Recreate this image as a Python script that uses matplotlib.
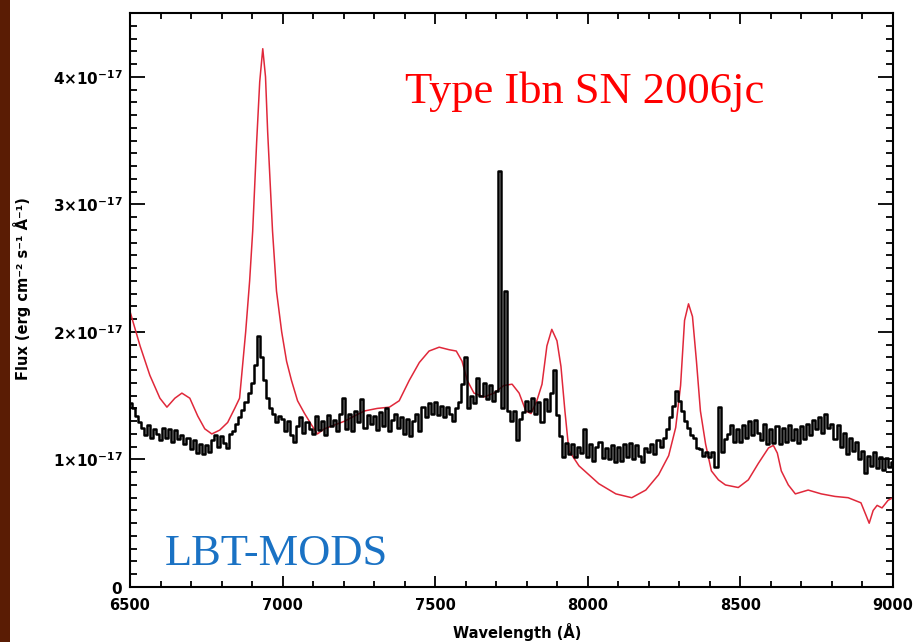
import numpy as np
import matplotlib
matplotlib.use('Agg')
import matplotlib.pyplot as plt
import matplotlib.patches as patches
from matplotlib.ticker import MultipleLocator, FuncFormatter

# Units of 1e-17 erg cm^-2 s^-1 A^-1 for both spectra
FLUX_UNIT = 1e-17

# LBT-MODS spectrum, 10 A bins from 6500 to 9000 A
mods_wave = np.arange(6500, 9001, 10)
mods_flux = [
    1.44, 1.40, 1.34, 1.29, 1.25, 1.19, 1.27, 1.17, 1.24, 1.20,
    1.15, 1.25, 1.17, 1.24, 1.14, 1.23, 1.16, 1.19, 1.12, 1.17,
    1.08, 1.15, 1.05, 1.12, 1.04, 1.11, 1.06, 1.15, 1.19, 1.10,
    1.18, 1.13, 1.09, 1.20, 1.22, 1.28, 1.33, 1.39, 1.45, 1.52,
    1.60, 1.74, 1.97, 1.80, 1.62, 1.48, 1.40, 1.36, 1.29, 1.34,
    1.32, 1.22, 1.30, 1.19, 1.14, 1.26, 1.33, 1.21, 1.29, 1.24,
    1.20, 1.34, 1.23, 1.30, 1.19, 1.35, 1.26, 1.31, 1.22, 1.36,
    1.48, 1.24, 1.36, 1.22, 1.38, 1.29, 1.47, 1.25, 1.35, 1.28,
    1.34, 1.23, 1.37, 1.26, 1.40, 1.22, 1.31, 1.36, 1.25, 1.33,
    1.20, 1.32, 1.18, 1.30, 1.36, 1.22, 1.41, 1.33, 1.44, 1.36,
    1.45, 1.35, 1.42, 1.33, 1.41, 1.36, 1.30, 1.40, 1.45, 1.59,
    1.80, 1.40, 1.50, 1.44, 1.64, 1.50, 1.60, 1.47, 1.58, 1.46,
    1.54, 3.26, 1.40, 2.32, 1.38, 1.30, 1.38, 1.15, 1.32, 1.37,
    1.46, 1.38, 1.48, 1.36, 1.45, 1.29, 1.47, 1.38, 1.52, 1.70,
    1.35, 1.18, 1.02, 1.13, 1.04, 1.12, 1.02, 1.10, 1.05, 1.24,
    1.02, 1.12, 0.99, 1.10, 1.14, 1.01, 1.09, 1.00, 1.11, 0.98,
    1.10, 0.99, 1.12, 1.02, 1.13, 1.00, 1.11, 1.03, 0.98, 1.09,
    1.06, 1.12, 1.04, 1.15, 1.10, 1.17, 1.24, 1.33, 1.42, 1.54,
    1.46, 1.38, 1.30, 1.25, 1.19, 1.17, 1.09, 1.08, 1.03, 1.06,
    1.02, 1.06, 0.94, 1.41, 1.06, 1.16, 1.20, 1.27, 1.14, 1.24,
    1.14, 1.27, 1.17, 1.30, 1.19, 1.31, 1.21, 1.15, 1.28, 1.12,
    1.24, 1.13, 1.26, 1.12, 1.25, 1.14, 1.27, 1.15, 1.24, 1.13,
    1.26, 1.16, 1.28, 1.19, 1.31, 1.24, 1.33, 1.21, 1.36, 1.25,
    1.28, 1.16, 1.27, 1.10, 1.21, 1.04, 1.17, 1.07, 1.14, 1.00,
    1.07, 0.89, 1.03, 0.95, 1.06, 0.93, 1.02, 0.92, 1.01, 0.94,
    0.98,
]

# SN 2006jc comparison spectrum
sn_wave = [
    6500, 6533, 6565, 6598, 6621, 6647, 6670, 6696, 6722, 6745,
    6768, 6794, 6820, 6843, 6859, 6879, 6892, 6902, 6915, 6925,
    6935, 6944, 6951, 6967, 6980, 6997, 7013, 7029, 7049, 7072,
    7095, 7114, 7137, 7170, 7203, 7235, 7268, 7310, 7350, 7382,
    7415, 7448, 7480, 7513, 7546, 7569, 7588, 7605, 7627, 7660,
    7693, 7725, 7752, 7775, 7797, 7814, 7833, 7850, 7866, 7882,
    7899, 7912, 7925, 7938, 7971, 8036, 8092, 8144, 8190, 8232,
    8265, 8288, 8304, 8317, 8330, 8343, 8356, 8369, 8386, 8405,
    8428, 8451, 8493, 8526, 8559, 8592, 8608, 8621, 8634, 8657,
    8680, 8722, 8765, 8810, 8853, 8895, 8912, 8922, 8935, 8948,
    8964, 8984, 9000,
]
sn_flux = [
    2.16, 1.89, 1.66, 1.48, 1.41, 1.48, 1.52, 1.48, 1.34, 1.24,
    1.20, 1.23, 1.29, 1.40, 1.48, 2.00, 2.40, 2.79, 3.49, 3.96,
    4.22, 4.00, 3.57, 2.79, 2.32, 2.00, 1.77, 1.62, 1.46, 1.36,
    1.27, 1.20, 1.24, 1.27, 1.30, 1.34, 1.38, 1.40, 1.41, 1.46,
    1.62, 1.76, 1.85, 1.88, 1.86, 1.85, 1.77, 1.62, 1.52, 1.49,
    1.52, 1.58, 1.59, 1.52, 1.38, 1.36, 1.46, 1.59, 1.89, 2.02,
    1.93, 1.73, 1.38, 1.07, 0.95, 0.81, 0.73, 0.70, 0.76, 0.88,
    1.03, 1.25, 1.58, 2.09, 2.22, 2.12, 1.77, 1.38, 1.12, 0.91,
    0.84, 0.80, 0.78, 0.84, 0.97, 1.09, 1.11, 1.05, 0.91, 0.80,
    0.73, 0.76, 0.73, 0.71, 0.70, 0.66, 0.56, 0.50, 0.60, 0.64,
    0.62, 0.68, 0.70,
]

x_ticks = [6500, 7000, 7500, 8000, 8500, 9000]
y_ticks = [0, 1, 2, 3, 4]


def flux_label(value, pos):
    n = int(round(value / FLUX_UNIT))
    if n == 0:
        return r'$\mathbf{0}$'
    return r'$\mathbf{%d{\times}10^{-17}}$' % n


fig = plt.figure(figsize=(9.16, 6.42), dpi=100)
fig.patch.set_facecolor('white')

# dark strip along the left edge of the slide
fig.patches.append(patches.Rectangle((0, 0), 10 / 916, 1, transform=fig.transFigure,
                                     facecolor='#5a1c04', edgecolor='none', zorder=0))

ax = fig.add_axes([130 / 916, 1 - 587 / 642, 763 / 916, 574 / 642])

ax.plot(sn_wave, np.array(sn_flux) * FLUX_UNIT, color='#e0283a', lw=1.1, zorder=2)
ax.plot(mods_wave, np.array(mods_flux) * FLUX_UNIT, color='black', lw=1.8,
        drawstyle='steps-mid', zorder=3)

ax.set_xlim(6500, 9000)
ax.set_ylim(0, 4.5 * FLUX_UNIT)

ax.set_xticks(x_ticks)
ax.set_yticks([v * FLUX_UNIT for v in y_ticks])
ax.xaxis.set_minor_locator(MultipleLocator(100))
ax.yaxis.set_minor_locator(MultipleLocator(0.1 * FLUX_UNIT))
ax.yaxis.set_major_formatter(FuncFormatter(flux_label))

for side in ax.spines.values():
    side.set_linewidth(1.5)

ax.tick_params(which='both', direction='in', top=True, right=True, width=1.3)
ax.tick_params(axis='y', which='major', length=11, pad=5, labelsize=11)
ax.tick_params(axis='y', which='minor', length=5)
ax.tick_params(axis='x', which='major', length=8, pad=8, labelsize=10.5)
ax.tick_params(axis='x', which='minor', length=4)
for lab in ax.get_xticklabels():
    lab.set_fontweight('bold')

ax.set_xlabel('Wavelength (Å)', fontsize=10.5, fontweight='bold')
ax.xaxis.set_label_coords(0.507, -0.062)
ax.set_ylabel('Flux (erg cm⁻² s⁻¹ Å⁻¹)', fontsize=10.5, fontweight='bold')
ax.yaxis.set_label_coords(-0.130, 0.52)

ax.text(0.360, 0.843, 'Type Ibn SN 2006jc', transform=ax.transAxes,
        color='#ff0000', fontsize=32, family='Liberation Serif', va='baseline')
ax.text(0.046, 0.038, 'LBT-MODS', transform=ax.transAxes,
        color='#1a72c4', fontsize=32, family='Liberation Serif', va='baseline')

fig.savefig('out.png', dpi=100)
